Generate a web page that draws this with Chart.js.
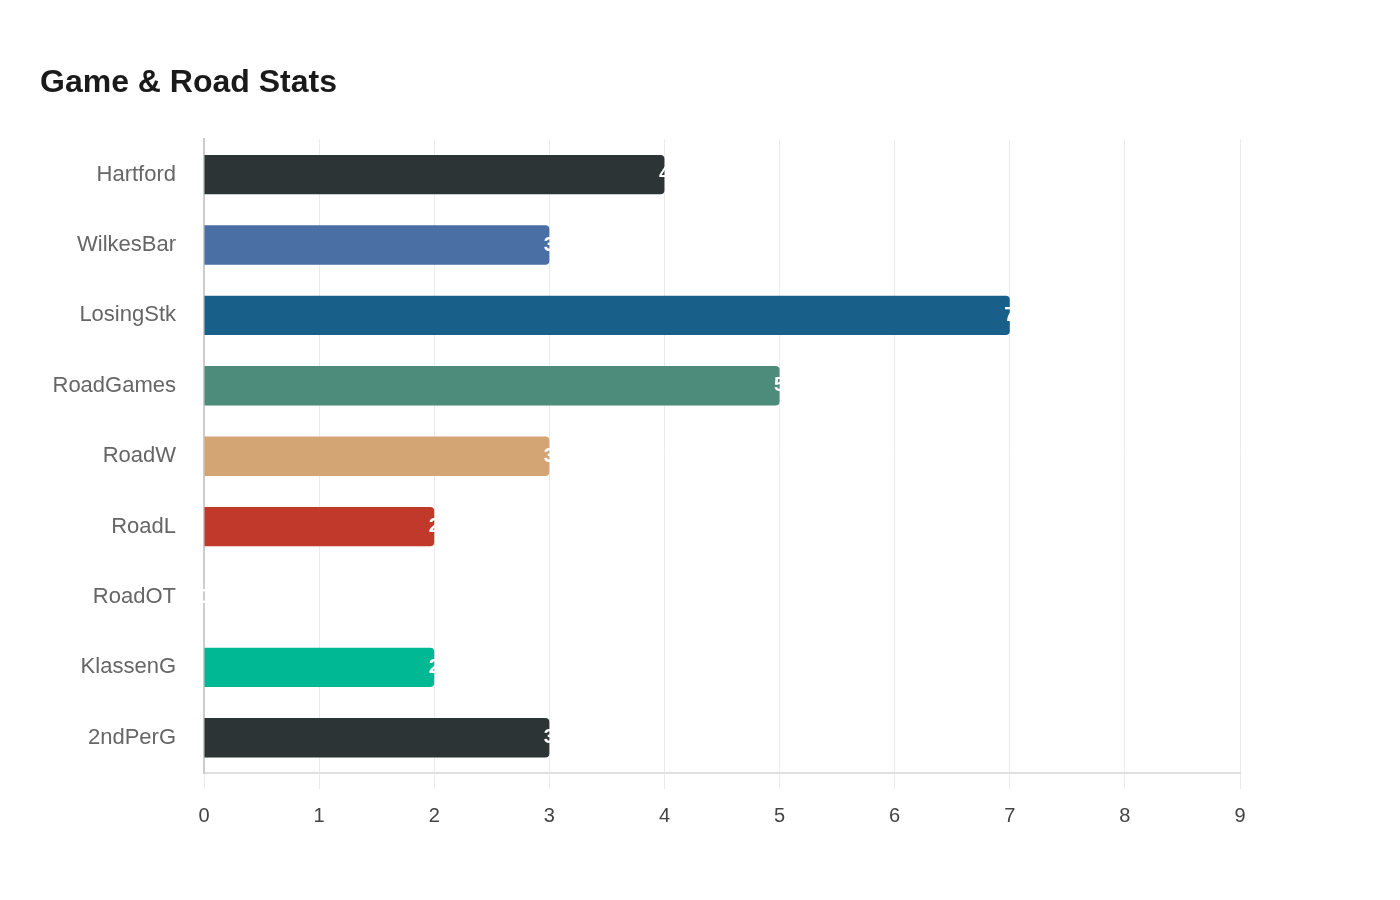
<!DOCTYPE html>
<html>
<head>
<meta charset="utf-8">
<script src="https://cdn.jsdelivr.net/npm/chart.js@4"></script>
<style>
html,body{margin:0;padding:0;background:#fff;}
#wrap{width:1400px;height:900px;position:relative;}
</style>
</head>
<body>
<div id="wrap"><canvas id="c" width="1400" height="900"></canvas></div>
<script>
const categories = ["Hartford","WilkesBar","LosingStk","RoadGames","RoadW","RoadL","RoadOT","KlassenG","2ndPerG"];
const values = [4,3,7,5,3,2,0,2,3];
const barColors = ["#2d3436","#4a6fa5","#186089","#4d8c7a","#d4a574","#c0392b","#2d3436","#00b894","#2d3436"];
const xTicks = [0,1,2,3,4,5,6,7,8,9];

const valueLabels = {
  id:'valueLabels',
  afterDatasetsDraw(chart){
    const ctx = chart.ctx;
    const meta = chart.getDatasetMeta(0);
    ctx.save();
    ctx.fillStyle = '#ffffff';
    ctx.font = 'bold 20px "Liberation Sans", Arial, sans-serif';
    ctx.textAlign = 'center';
    ctx.textBaseline = 'middle';
    meta.data.forEach((bar,i)=>{
      ctx.fillText(String(values[i]), bar.x, bar.y);
    });
    ctx.restore();
  }
};

Chart.defaults.font.family = '"Liberation Sans", Arial, sans-serif';
new Chart(document.getElementById('c'), {
  type:'bar',
  data:{
    labels: categories,
    datasets:[{
      data: values,
      backgroundColor: barColors,
      borderRadius: 4,
      borderSkipped: 'start',
      barPercentage: 0.56,
      categoryPercentage: 1.0
    }]
  },
  options:{
    indexAxis:'y',
    responsive:false,
    animation:false,
    devicePixelRatio:1,
    layout:{padding:{left:40,right:160,top:64,bottom:57}},
    plugins:{
      legend:{display:false},
      tooltip:{enabled:false},
      title:{
        display:true,
        text:'Game & Road Stats',
        align:'start',
        color:'#1a1a1a',
        font:{size:32,weight:'bold'},
        padding:{top:0,bottom:37}
      }
    },
    scales:{
      x:{
        min:0,max:9,
        afterBuildTicks(scale){ scale.ticks = xTicks.map(v=>({value:v})); },
        grid:{color:'#ebebeb',lineWidth:1,tickLength:16,drawTicks:true},
        border:{display:true,color:'#e0e0e0',width:2},
        ticks:{color:'#444',font:{size:20},padding:15}
      },
      y:{
        grid:{display:false},
        border:{display:true,color:'#cccccc',width:2},
        ticks:{color:'#666',font:{size:22},padding:20},
        afterFit(scale){ scale.width = 164; }
      }
    }
  },
  plugins:[valueLabels]
});
</script>
</body>
</html>
